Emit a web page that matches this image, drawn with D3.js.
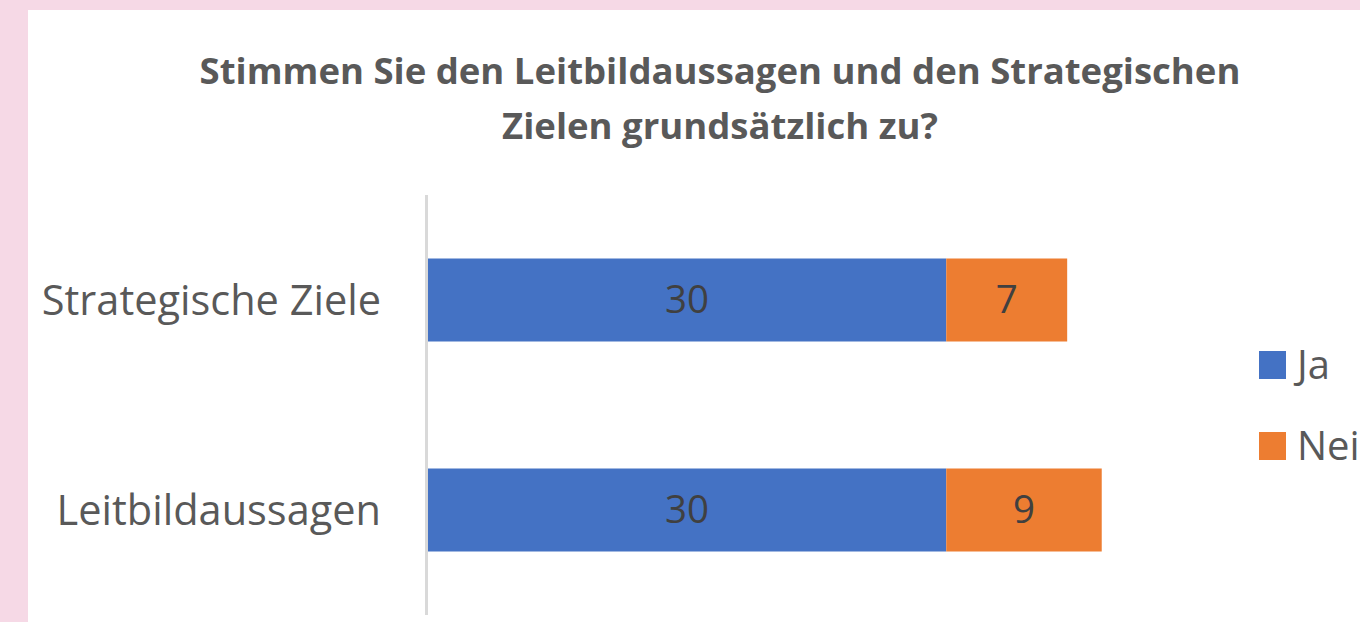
<!DOCTYPE html>
<html lang="de">
<head>
<meta charset="UTF-8">
<title>Leitbild Zustimmung</title>
<script src="https://d3js.org/d3.v7.min.js"></script>
<style>
  html, body { margin: 0; padding: 0; background: #f6d9e6; }
  svg { display: block; }
</style>
</head>
<body>
<svg id="chart" width="1360" height="622"></svg>
<script>
// data
const categories = ["Strategische Ziele", "Leitbildaussagen"];
const seriesNames = ["Ja", "Nein"];
const jaValues = [30, 30];
const neinValues = [7, 9];
const titleLines = ["Stimmen Sie den Leitbildaussagen und den Strategischen", "Zielen grundsätzlich zu?"];

const colors = { "Ja": "#4472c4", "Nein": "#ed7d31" };
const font = "'Open Sans', 'Noto Sans', sans-serif";

const svg = d3.select("#chart");

// white chart area
svg.append("rect")
    .attr("x", 28).attr("y", 10)
    .attr("width", 1332).attr("height", 612)
    .attr("fill", "#ffffff");

// title
svg.append("g").selectAll("text")
    .data(titleLines)
    .enter().append("text")
    .attr("x", 720)
    .attr("y", (d, i) => 84 + i * 55)
    .attr("text-anchor", "middle")
    .style("font-family", font)
    .style("font-weight", "bold")
    .style("font-size", "36.5px")
    .style("fill", "#595959")
    .text(d => d);

const x = d3.scaleLinear().domain([0, 40]).range([428, 1119]);
const y = d3.scaleBand().domain(categories).range([195, 615]);
const barH = 83;

const rows = categories.map((c, i) => ({
    cat: c,
    parts: [
        { name: "Ja", x0: 0, x1: jaValues[i], v: jaValues[i] },
        { name: "Nein", x0: jaValues[i], x1: jaValues[i] + neinValues[i], v: neinValues[i] }
    ]
}));

const rowG = svg.append("g").selectAll("g")
    .data(rows)
    .enter().append("g")
    .attr("transform", d => "translate(0," + (y(d.cat) + y.bandwidth() / 2) + ")");

rowG.selectAll("rect")
    .data(d => d.parts)
    .enter().append("rect")
    .attr("x", d => x(d.x0))
    .attr("y", -barH / 2)
    .attr("width", d => x(d.x1) - x(d.x0))
    .attr("height", barH)
    .attr("fill", d => colors[d.name]);

rowG.selectAll("text.val")
    .data(d => d.parts)
    .enter().append("text")
    .attr("class", "val")
    .attr("x", d => (x(d.x0) + x(d.x1)) / 2)
    .attr("y", 0)
    .attr("dy", "0.35em")
    .attr("text-anchor", "middle")
    .style("font-family", font)
    .style("font-size", "38.5px")
    .style("fill", "#404040")
    .text(d => d.v);

// category labels
rowG.append("text")
    .attr("x", 381)
    .attr("y", 0)
    .attr("dy", "0.35em")
    .attr("text-anchor", "end")
    .style("font-family", font)
    .style("font-size", "41.5px")
    .style("fill", "#595959")
    .text(d => d.cat);

// vertical axis line
svg.append("line")
    .attr("x1", 426.5).attr("x2", 426.5)
    .attr("y1", 195).attr("y2", 615)
    .attr("stroke", "#d9d9d9")
    .attr("stroke-width", 3);

// legend
const legend = svg.append("g")
    .attr("transform", "translate(1259, 351)");

const li = legend.selectAll("g")
    .data(seriesNames)
    .enter().append("g")
    .attr("transform", (d, i) => "translate(0," + i * 81 + ")");

li.append("rect")
    .attr("width", 27).attr("height", 28)
    .attr("fill", d => colors[d]);

li.append("text")
    .attr("x", 38)
    .attr("y", 14)
    .attr("dy", "0.35em")
    .style("font-family", font)
    .style("font-size", "40px")
    .style("fill", "#595959")
    .text(d => d);
</script>
</body>
</html>
